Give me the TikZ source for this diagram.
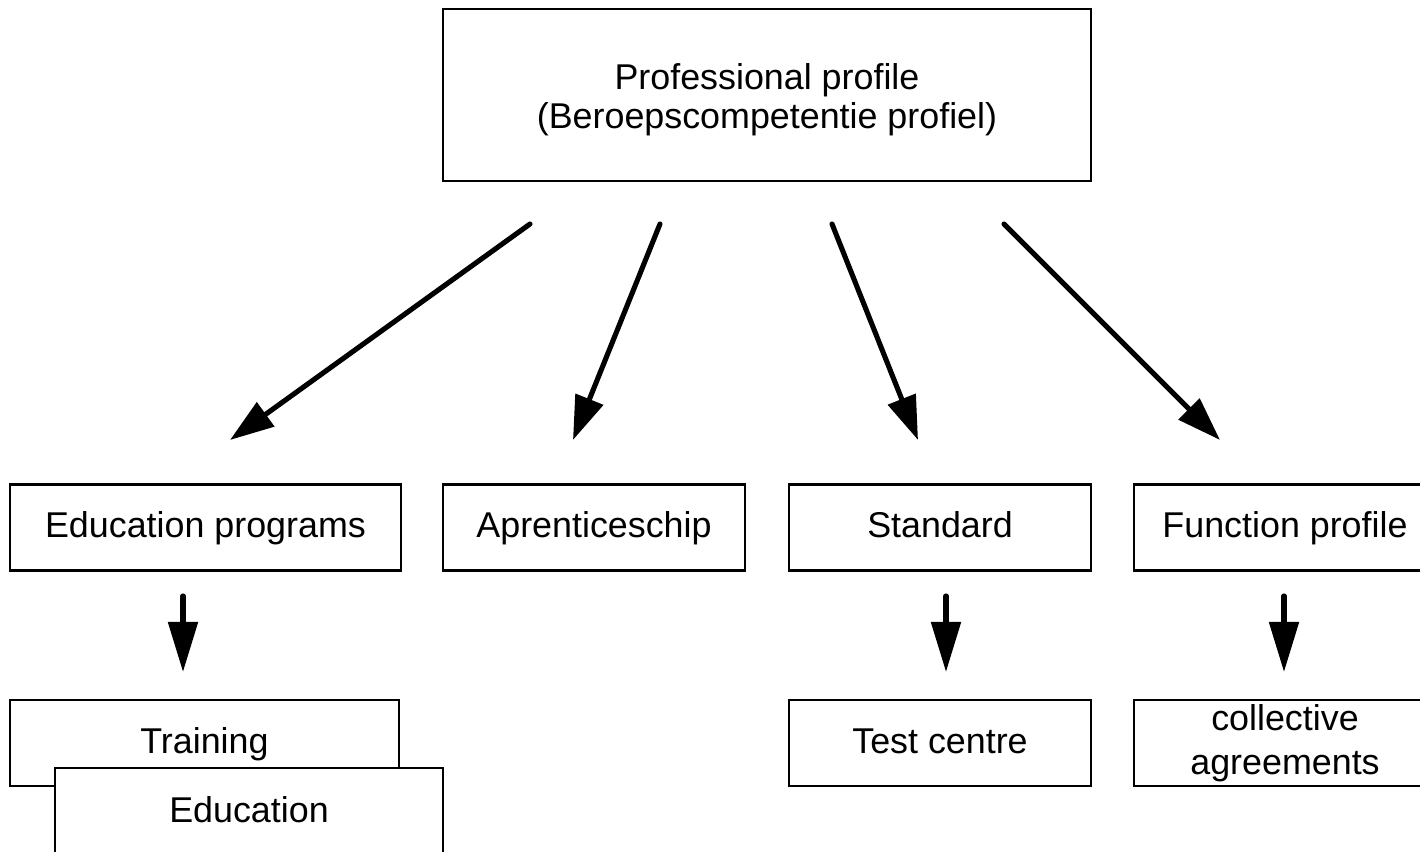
\documentclass[tikz,border=0pt]{standalone}
\usepackage{fontspec}
\setmainfont{Liberation Sans}
\usetikzlibrary{arrows.meta}

\tikzset{
  box/.style={draw, line width=0.6pt, fill=white, align=center, inner sep=0pt,
    minimum height=0.86cm, font=\fontsize{10.2}{11.1}\selectfont},
  onebox/.style={box, text height=7.96pt, text depth=2.04pt},
  bigarrow/.style={line width=1.45pt, line cap=round,
    -{Triangle[length=0.44cm,width=0.29cm]}},
  downarrow/.style={bigarrow, -{Triangle[length=0.5cm,width=0.29cm]}}
}

\begin{document}
\begin{tikzpicture}
  \useasboundingbox (0,0) rectangle (14.2,8.52);
  \clip (0,0) rectangle (14.2,8.52);

  % Profile at the top
  \node[box, minimum width=6.48cm, minimum height=1.72cm] (prof) at (7.67,7.57)
    {\rule{0pt}{10pt}Professional profile\\(Beroepscompetentie profiel)};

  % Middle row
  \node[onebox, minimum width=3.91cm] (edu)  at (2.055,3.245) {Education programs};
  \node[onebox, minimum width=3.02cm] (appr) at (5.94,3.245)  {Aprenticeschip};
  \node[onebox, minimum width=3.02cm] (std)  at (9.40,3.245)  {Standard};
  \node[onebox, minimum width=3.02cm] (func) at (12.85,3.245) {Function profile};

  % Bottom row
  \node[onebox, minimum width=3.89cm] (train) at (2.045,1.09) {Training};
  \node[onebox, minimum width=3.88cm, minimum height=0.88cm] (educ) at (2.49,0.40) {Education};
  \node[onebox, minimum width=3.02cm] (test) at (9.40,1.09) {Test centre};
  \node[box, minimum width=3.02cm, font=\fontsize{10.2}{12.4}\selectfont] (coll) at (12.85,1.09)
    {collective\\agreements};

  % Arrow ends
  \coordinate (prof-a) at (5.30,6.28);
  \coordinate (prof-b) at (6.60,6.28);
  \coordinate (prof-c) at (8.32,6.28);
  \coordinate (prof-d) at (10.04,6.28);
  \coordinate (edu-in)  at (2.30,4.12);
  \coordinate (appr-in) at (5.73,4.12);
  \coordinate (std-in)  at (9.18,4.12);
  \coordinate (func-in) at (12.20,4.12);

  \coordinate (edu-out)   at (1.83,2.56);
  \coordinate (train-in)  at (1.83,1.80);
  \coordinate (std-out)   at (9.46,2.56);
  \coordinate (test-in)   at (9.46,1.80);
  \coordinate (func-out)  at (12.84,2.56);
  \coordinate (coll-in)   at (12.84,1.80);

  % Arrows
  \draw[bigarrow] (prof-a) -- (edu-in);
  \draw[bigarrow] (prof-b) -- (appr-in);
  \draw[bigarrow] (prof-c) -- (std-in);
  \draw[bigarrow] (prof-d) -- (func-in);

  \draw[downarrow] (edu-out) -- (train-in);
  \draw[downarrow] (std-out) -- (test-in);
  \draw[downarrow] (func-out) -- (coll-in);
\end{tikzpicture}
\end{document}
